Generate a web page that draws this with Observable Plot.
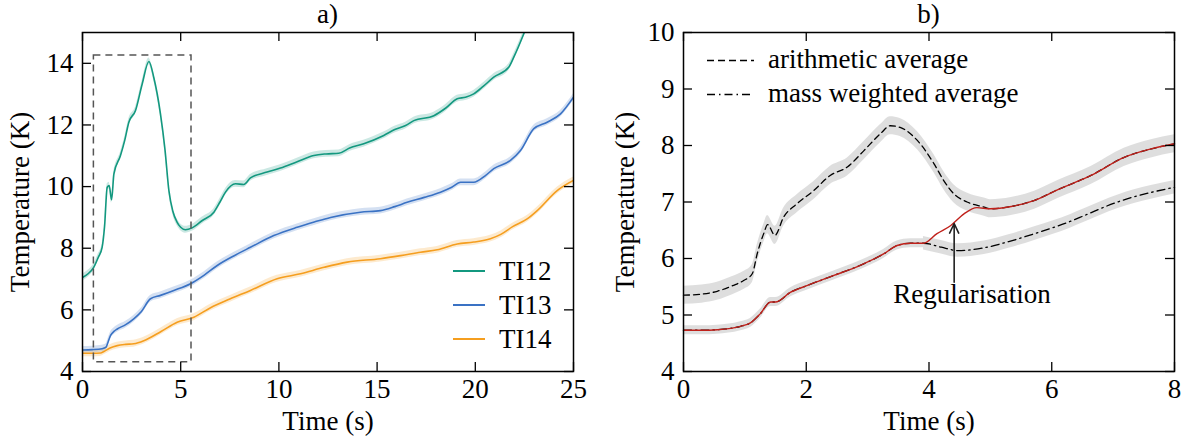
<!DOCTYPE html>
<html>
<head>
<meta charset="utf-8">
<script src="https://cdn.jsdelivr.net/npm/d3@7"></script>
<script src="https://cdn.jsdelivr.net/npm/@observablehq/plot@0.6"></script>
<style>
  html, body { margin: 0; padding: 0; background: #fff; overflow: hidden; }
  #wrap { position: relative; width: 1184px; height: 445px; display: flex; }
  #wrap, #wrap * { font-family: "Liberation Serif", "Times New Roman", Times, serif !important; }
  .panel { position: relative; width: 592px; height: 445px; }
  .panel > svg { display: block; }
  .overlay { position: absolute; left: 0; top: 0; pointer-events: none; }
  .ptitle { position: absolute; top: 0; width: 491px; text-align: center; font-size: 27px; line-height: 29px; color: #000; }
</style>
</head>
<body>
<div id="wrap">
  <div class="panel" id="pa"><div class="ptitle" style="left:82px">a)</div></div>
  <div class="panel" id="pb"><div class="ptitle" style="left:91px">b)</div></div>
</div>
<script>
// ---------------- Panel a data ----------------
const ti12_t = [0,0.3,0.57,0.8,1.0,1.12,1.26,1.36,1.48,1.6,1.93,2.15,2.36,2.7,3.04,3.38,3.63,3.97,4.2,4.4,4.6,4.82,5.0,5.24,5.58,6.1,6.69,7.0,7.28,7.79,8.21,8.55,9.4,10.08,10.9,11.78,12.4,13.05,13.6,14.32,15.34,15.9,16.45,16.87,17.89,18.5,19.08,19.5,19.92,20.4,20.94,21.7,21.96,22.47,22.8];
const ti12_T = [7.05,7.18,7.38,7.7,8.03,8.68,9.98,10.03,9.57,10.41,11.0,11.5,12.09,12.47,13.33,14.06,13.54,12.36,11.2,9.87,9.2,8.84,8.68,8.6,8.66,8.9,9.17,9.5,9.82,10.09,10.07,10.28,10.47,10.6,10.8,11.01,11.06,11.08,11.25,11.39,11.66,11.85,11.98,12.14,12.3,12.55,12.85,12.9,13.01,13.25,13.55,13.87,14.2,14.96,15.5];

const ti13_t = [0,0.5,1.0,1.2,1.3,1.43,1.6,1.77,2.2,2.61,3.0,3.46,3.97,4.65,5.5,6.2,6.86,7.7,8.55,9.74,10.93,11.8,12.63,14.15,15.17,15.9,16.53,17.4,18.23,18.8,19.25,19.92,20.5,20.94,21.79,22.3,22.98,23.66,24.34,25];
const ti13_T = [4.70,4.71,4.74,4.79,4.95,5.17,5.3,5.38,5.52,5.71,5.95,6.36,6.47,6.63,6.85,7.13,7.44,7.75,8.03,8.41,8.68,8.85,9.0,9.17,9.22,9.35,9.49,9.65,9.82,9.98,10.14,10.14,10.35,10.58,10.85,11.17,11.88,12.09,12.36,12.9];

const ti14_t = [0,0.5,0.92,1.09,1.4,1.77,2.2,2.61,3.12,4.0,4.82,5.67,6.52,7.5,8.55,9.91,11.1,12.3,13.48,15.17,16.2,17.21,18.06,19.08,19.92,20.77,21.3,21.9,22.64,23.15,24.17,25];
const ti14_T = [4.59,4.59,4.6,4.65,4.76,4.84,4.88,4.9,5.0,5.3,5.6,5.76,6.07,6.35,6.63,7.01,7.17,7.38,7.55,7.66,7.76,7.87,7.95,8.14,8.2,8.31,8.45,8.7,8.95,9.22,9.87,10.2];

const seriesNamesA = ["TI12", "TI13", "TI14"];
const bandA = 0.11;             // half-width of uncertainty band (K)
const boxA = [{x1: 0.58, x2: 5.55, y1: 4.3, y2: 14.25}];   // zoom box
const xTicksA = [0, 5, 10, 15, 20, 25];
const yTicksA = [4, 6, 8, 10, 12, 14];

// ---------------- Panel b data ----------------
const arith_t = [0,0.3,0.55,0.8,0.98,1.12,1.2,1.31,1.37,1.49,1.63,1.85,2.12,2.39,2.67,2.94,3.21,3.37,3.53,3.81,4.08,4.24,4.4,4.62,4.9,5.0,5.34,5.72,6.1,6.64,7.18,7.62,8];
const arith_T = [5.35,5.37,5.42,5.52,5.61,5.73,6.08,6.45,6.6,6.41,6.73,6.97,7.2,7.47,7.62,7.91,8.21,8.35,8.32,8.09,7.68,7.38,7.15,7.0,6.91,6.88,6.92,7.03,7.22,7.47,7.79,7.94,8.03];

const mass_t = [0,0.3,0.55,0.93,1.09,1.25,1.42,1.5,1.74,2.01,2.45,2.88,3.26,3.48,3.7,3.91,4.2,4.47,4.9,5.3,5.72,6.31,6.53,7.07,7.62,8];
const mass_T = [4.73,4.73,4.74,4.8,4.86,5.02,5.23,5.23,5.4,5.52,5.7,5.88,6.08,6.23,6.27,6.27,6.2,6.14,6.19,6.3,6.44,6.66,6.76,7.0,7.17,7.26];

const reg_t = [0,0.3,0.55,0.93,1.09,1.25,1.42,1.5,1.74,2.01,2.45,2.88,3.26,3.48,3.7,3.91,4.13,4.35,4.57,4.78,5.0,5.34,5.72,6.1,6.64,7.18,7.62,8];
const reg_T = [4.73,4.73,4.74,4.8,4.86,5.02,5.23,5.23,5.4,5.52,5.7,5.88,6.08,6.23,6.27,6.27,6.44,6.58,6.79,6.9,6.88,6.92,7.03,7.22,7.47,7.79,7.94,8.03];

const seriesNamesB = ["arithmetic average", "mass weighted average"];
const bandArith = 0.16, bandMass = 0.12, bandReg = 0.08;
const massBandStart = 3.85, regBandEnd = 3.91;
const annotArrow = [{x: 4.41, y1: 5.58, y2: 6.62}];
const annotText = [{x: 4.70, y: 5.36, text: "Regularisation"}];
const xTicksB = [0, 2, 4, 6, 8];
const yTicksB = [4, 5, 6, 7, 8, 9, 10];

// ---------------- helpers ----------------
const FONT = '"Liberation Serif", "Times New Roman", Times, serif';
const FS = 27;
const rows = (t, v, e) => t.map((x, i) => ({t: x, v: v[i], lo: v[i] - e, hi: v[i] + e}));
const W = 592, H = 445, MT = 32, MB = 74;
const innerH = H - MT - MB;  // 339
const TL = 9;                 // inward tick length
const fmt = d => String(d);

function inwardTicks(xt, yt, innerW) {
  return [
    Plot.tickX(xt, {x: d => d, insetTop: innerH - TL, stroke: "black", strokeWidth: 1.3}),
    Plot.tickX(xt, {x: d => d, insetBottom: innerH - TL, stroke: "black", strokeWidth: 1.3}),
    Plot.tickY(yt, {y: d => d, insetRight: innerW - TL, stroke: "black", strokeWidth: 1.3}),
    Plot.tickY(yt, {y: d => d, insetLeft: innerW - TL, stroke: "black", strokeWidth: 1.3})
  ];
}

// ---------------- Panel a ----------------
const colorsA = ["#13987f", "#3a72c4", "#f59e1f"];
const dataA = [rows(ti12_t, ti12_T, bandA), rows(ti13_t, ti13_T, bandA), rows(ti14_t, ti14_T, bandA)];
const mlA = 82, mrA = 19;
const plotA = Plot.plot({
  width: W, height: H, marginLeft: mlA, marginRight: mrA, marginTop: MT, marginBottom: MB,
  x: {domain: [0, 25]}, y: {domain: [4, 15]},
  style: {fontFamily: FONT, fontSize: FS + "px", color: "black", background: "white", overflow: "visible"},
  marks: [
    ...dataA.map((d, i) => Plot.areaY(d, {x: "t", y1: "lo", y2: "hi", fill: colorsA[i], fillOpacity: 0.22, curve: "monotone-x", clip: true})),
    ...dataA.map((d, i) => Plot.lineY(d, {x: "t", y: "v", stroke: colorsA[i], strokeWidth: 1.6, curve: "monotone-x", clip: true})),
    Plot.rect(boxA, {x1: "x1", x2: "x2", y1: "y1", y2: "y2", fill: "none", stroke: "#555", strokeWidth: 1.5, strokeDasharray: "7,5"}),
    Plot.frame({stroke: "black", strokeWidth: 1.5}),
    ...inwardTicks(xTicksA, yTicksA, W - mlA - mrA),
    Plot.axisX({ticks: xTicksA, tickFormat: fmt, tickSize: 0, tickPadding: 7, label: "Time (s)", labelAnchor: "center", labelOffset: 58, labelArrow: "none"}),
    Plot.axisY({ticks: yTicksA, tickFormat: fmt, tickSize: 0, tickPadding: 9, label: "Temperature (K)", labelAnchor: "center", labelOffset: 73, labelArrow: "none"})
  ]
});
document.getElementById("pa").prepend(plotA);

// legend a (overlay)
{
  const svg = d3.select("#pa").append("svg").attr("class", "overlay").attr("width", W).attr("height", H);
  const baselines = [280, 314, 348];
  seriesNamesA.forEach((name, i) => {
    const yb = baselines[i];
    svg.append("line").attr("x1", 453).attr("x2", 485).attr("y1", yb - 9).attr("y2", yb - 9)
      .attr("stroke", colorsA[i]).attr("stroke-width", 2);
    svg.append("text").attr("x", 499).attr("y", yb).attr("font-family", FONT).attr("font-size", FS).text(name);
  });
}

// ---------------- Panel b ----------------
const mlB = 91, mrB = 10;
const arithRows = rows(arith_t, arith_T, bandArith);
const massRows = rows(mass_t, mass_T, bandMass);
const regRows = rows(reg_t, reg_T, bandReg);
const plotB = Plot.plot({
  width: W, height: H, marginLeft: mlB, marginRight: mrB, marginTop: MT, marginBottom: MB,
  x: {domain: [0, 8]}, y: {domain: [4, 10]},
  style: {fontFamily: FONT, fontSize: FS + "px", color: "black", background: "white", overflow: "visible"},
  marks: [
    Plot.areaY(arithRows, {x: "t", y1: "lo", y2: "hi", fill: "#7f7f7f", fillOpacity: 0.26, curve: "monotone-x"}),
    Plot.areaY(massRows.filter(d => d.t >= massBandStart), {x: "t", y1: "lo", y2: "hi", fill: "#7f7f7f", fillOpacity: 0.26, curve: "monotone-x"}),
    Plot.areaY(regRows.filter(d => d.t <= regBandEnd), {x: "t", y1: "lo", y2: "hi", fill: "#7f7f7f", fillOpacity: 0.26, curve: "monotone-x"}),
    Plot.lineY(arithRows, {x: "t", y: "v", stroke: "black", strokeWidth: 1.3, strokeDasharray: "6,4", curve: "monotone-x"}),
    Plot.lineY(massRows, {x: "t", y: "v", stroke: "black", strokeWidth: 1.3, strokeDasharray: "8,4,1.5,4", curve: "monotone-x"}),
    Plot.lineY(regRows, {x: "t", y: "v", stroke: "#c0211b", strokeWidth: 1.4, curve: "monotone-x"}),
    Plot.arrow(annotArrow, {x1: "x", x2: "x", y1: "y1", y2: "y2", stroke: "#222", strokeWidth: 1.6, headLength: 10, headAngle: 50}),
    Plot.text(annotText, {x: "x", y: "y", text: "text", fontSize: FS, fill: "black"}),
    Plot.frame({stroke: "black", strokeWidth: 1.5}),
    ...inwardTicks(xTicksB, yTicksB, W - mlB - mrB),
    Plot.axisX({ticks: xTicksB, tickFormat: fmt, tickSize: 0, tickPadding: 7, label: "Time (s)", labelAnchor: "center", labelOffset: 58, labelArrow: "none"}),
    Plot.axisY({ticks: yTicksB, tickFormat: fmt, tickSize: 0, tickPadding: 9, label: "Temperature (K)", labelAnchor: "center", labelOffset: 69, labelArrow: "none"})
  ]
});
document.getElementById("pb").prepend(plotB);

// legend b (overlay)
{
  const svg = d3.select("#pb").append("svg").attr("class", "overlay").attr("width", W).attr("height", H);
  const dashes = ["7,4", "8,4,1.5,4"];
  const baselines = [68, 102];
  seriesNamesB.forEach((name, i) => {
    const yb = baselines[i];
    svg.append("line").attr("x1", 115).attr("x2", 162).attr("y1", yb - 7.5).attr("y2", yb - 7.5)
      .attr("stroke", "black").attr("stroke-width", 1.4).attr("stroke-dasharray", dashes[i]);
    svg.append("text").attr("x", 176).attr("y", yb).attr("font-family", FONT).attr("font-size", FS).text(name);
  });
}
</script>
</body>
</html>
